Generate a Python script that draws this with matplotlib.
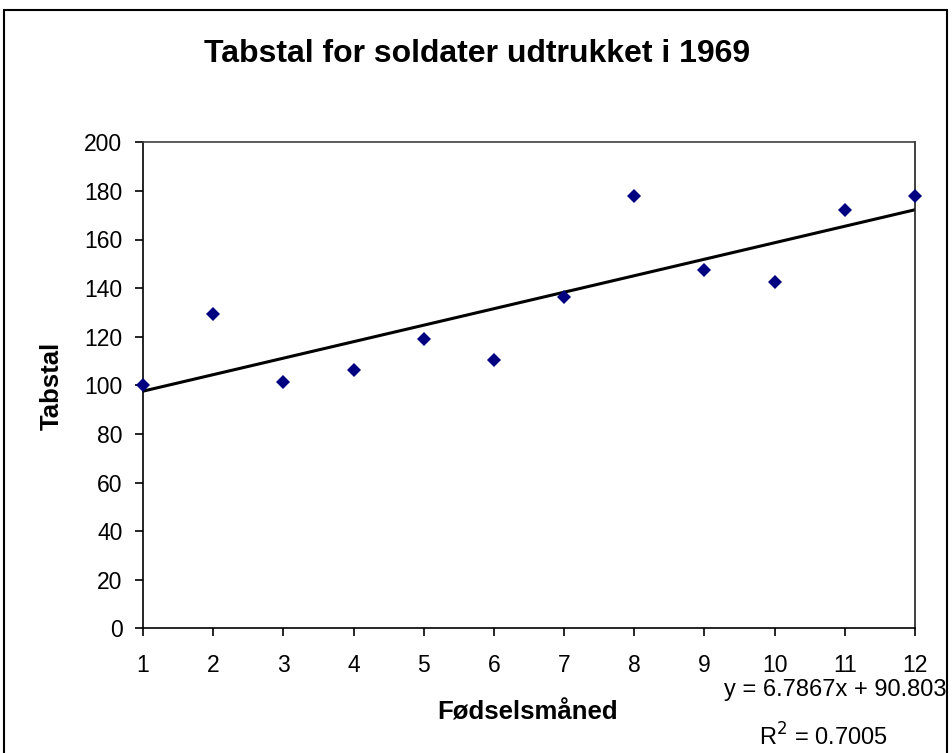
import matplotlib
matplotlib.use("Agg")
import matplotlib.pyplot as plt
from matplotlib.patches import Rectangle
import numpy as np

plt.rcParams['font.family'] = ['Liberation Sans', 'DejaVu Sans']

months = [1, 2, 3, 4, 5, 6, 7, 8, 9, 10, 11, 12]
tabstal = [100.1, 129.5, 101.2, 106.3, 119.2, 110.4, 136.5, 177.9, 147.4, 142.4, 172.1, 177.9]
slope = 6.7867
intercept = 90.803
r2 = 0.7005
yticks = [0, 20, 40, 60, 80, 100, 120, 140, 160, 180, 200]

W, H = 952, 753
fig = plt.figure(figsize=(W / 100, H / 100), dpi=100)
ax = fig.add_axes([143 / W, 1 - 628.3 / H, (915 - 143) / W, (628.3 - 142.3) / H])

xs = np.array([months[0], months[-1]])
ax.plot(xs, slope * xs + intercept, color='black', lw=2.2, zorder=2)
ax.plot(months, tabstal, linestyle='none', marker='D', ms=7.5, color='#000080',
        markeredgewidth=0, clip_on=False, zorder=3)

ax.set_xlim(1, 12)
ax.set_ylim(0, 200)
ax.set_xticks(months)
ax.set_yticks(yticks)
ax.tick_params(axis='both', direction='out', length=5.8, width=1.2, labelsize=16.5, color='black')
ax.tick_params(axis='x', pad=13)
ax.tick_params(axis='y', pad=9)
for s in ax.spines.values():
    s.set_linewidth(1.2)
    s.set_color('black')
ax.spines['top'].set_color('#404040')
ax.spines['right'].set_color('#202020')

fig.text(477.5 / W, 1 - 54 / H, 'Tabstal for soldater udtrukket i 1969', ha='center', va='center',
         fontsize=23, fontweight='bold')
fig.text(52 / W, 1 - 386 / H, 'Tabstal', rotation=90, ha='center', va='center',
         fontsize=18.5, fontweight='bold')
fig.text(527.5 / W, 1 - 713 / H, 'Fødselsmåned', ha='center', va='center',
         fontsize=18.5, fontweight='bold')
fig.text(946 / W, 1 - 690 / H, 'y = %.4fx + %.3f' % (slope, intercept), ha='right', va='center',
         fontsize=17)
fig.text(823 / W, 1 - 737 / H, 'R$^2$ = %.4f' % r2, ha='center', va='center', fontsize=17)

fig.patches.append(Rectangle((4 / W, -0.01), (947 - 4) / W, 1 - 10 / H + 0.01,
                             transform=fig.transFigure, fill=False, lw=1.5, edgecolor='black'))

fig.savefig('out.png', dpi=100, facecolor='white')
